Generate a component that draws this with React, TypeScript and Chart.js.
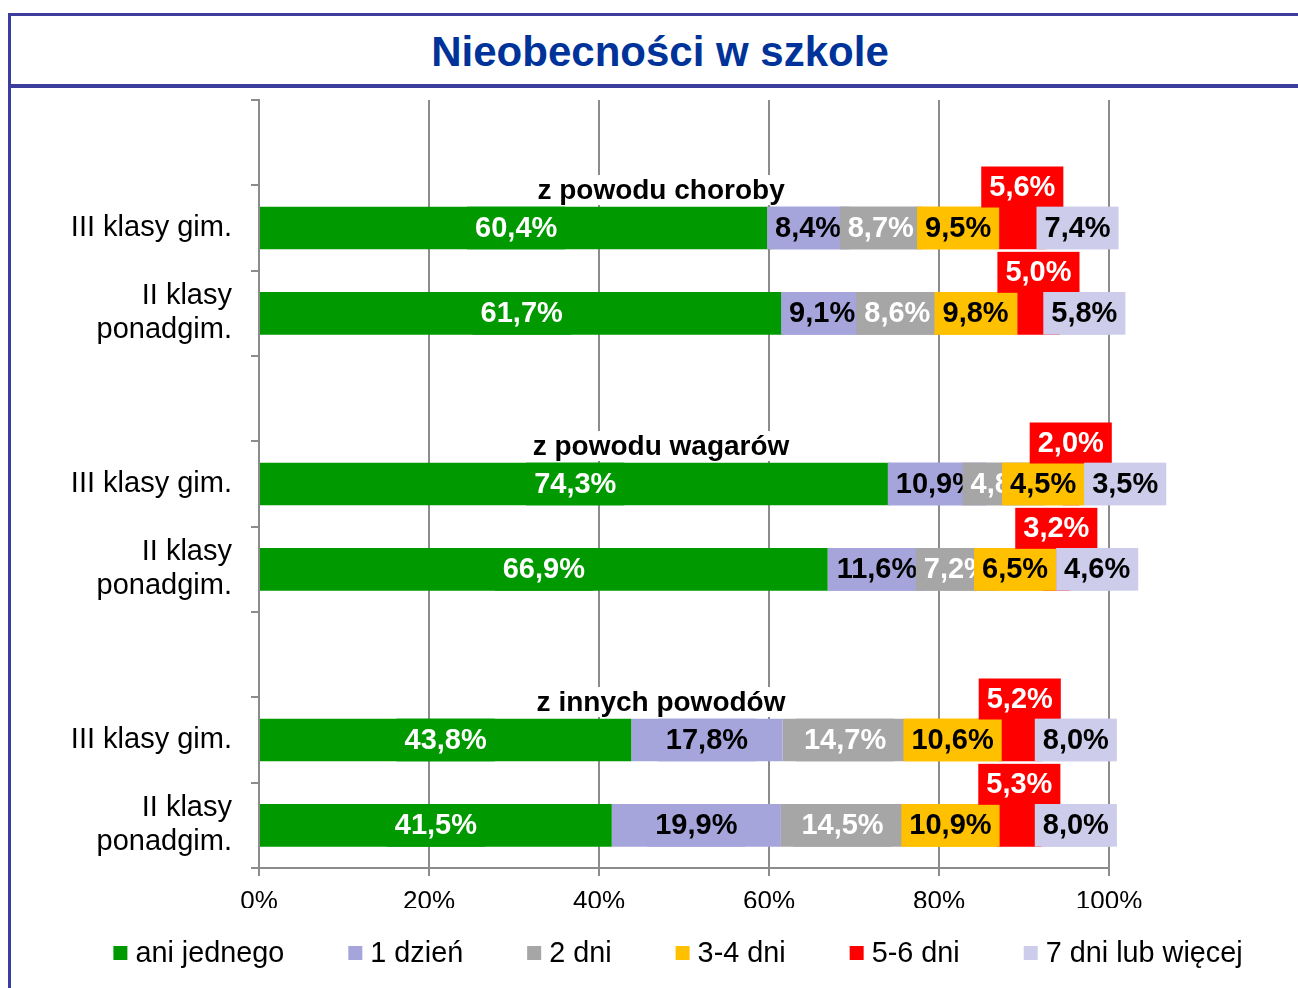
import React, { useEffect, useRef } from 'react';
import { Chart, registerables } from 'chart.js';

Chart.register(...registerables);

const FONT = "'Liberation Sans', Arial, sans-serif";

const chartTitle = 'Nieobecności w szkole';
const groupTitles = ['z powodu choroby', 'z powodu wagarów', 'z innych powodów'];
const rowLabels: (string | string[])[] = ['III klasy gim.', ['II klasy', 'ponadgim.']];
const seriesNames = ['ani jednego', '1 dzień', '2 dni', '3-4 dni', '5-6 dni', '7 dni lub więcej'];

// order of rows: choroby (III gim, II ponadgim), wagary (...), inne (...)
const aniJednego = [60.4, 61.7, 74.3, 66.9, 43.8, 41.5];
const jedenDzien = [8.4, 9.1, 10.9, 11.6, 17.8, 19.9];
const dwaDni = [8.7, 8.6, 4.8, 7.2, 14.7, 14.5];
const trzyCzteryDni = [9.5, 9.8, 4.5, 6.5, 10.6, 10.9];
const piecSzescDni = [5.6, 5.0, 2.0, 3.2, 5.2, 5.3];
const siedemWiecej = [7.4, 5.8, 3.5, 4.6, 8.0, 8.0];

const xTickValues = [0, 20, 40, 60, 80, 100];

const seriesColors = ['#009900', '#a5a5dc', '#a6a6a6', '#ffc000', '#ff0000', '#cdcdeb'];
const labelTextColors = ['#ffffff', '#000000', '#ffffff', '#000000', '#ffffff', '#000000'];
const GRID = '#8c8c8c';

const allSeries = [aniJednego, jedenDzien, dwaDni, trzyCzteryDni, piecSzescDni, siedemWiecej];

function buildLabels(): (string | string[])[] {
  const out: (string | string[])[] = [];
  groupTitles.forEach(() => {
    out.push('');
    rowLabels.forEach((r) => out.push(r));
  });
  return out;
}

function buildSlots(values: number[]): (number | null)[] {
  const out: (number | null)[] = [];
  groupTitles.forEach((_, g) => {
    out.push(null);
    rowLabels.forEach((_, r) => out.push(values[g * rowLabels.length + r]));
  });
  return out;
}

const fmt = (v: number) => v.toFixed(1).replace('.', ',') + '%';

const labelPlugin = {
  id: 'barLabels',
  afterDatasetsDraw(chart: any) {
    const ctx = chart.ctx as CanvasRenderingContext2D;
    const xs = chart.scales.x;
    const ys = chart.scales.y;
    ctx.save();
    ctx.font = `bold 28px ${FONT}`;
    ctx.textAlign = 'center';
    ctx.textBaseline = 'middle';
    // group titles
    groupTitles.forEach((t, g) => {
      const idx = g * (rowLabels.length + 1) + 1;
      const cy = ys.getPixelForValue(idx) - 38;
      const cx = xs.getPixelForValue(47.3);
      const w = ctx.measureText(t).width + 8;
      ctx.fillStyle = '#ffffff';
      ctx.fillRect(cx - w / 2, cy - 15, w, 30);
      ctx.fillStyle = '#000000';
      ctx.fillText(t, cx, cy + 1);
    });
    ctx.font = `bold 29px ${FONT}`;
    const prevRight: Record<number, number> = {};
    chart.data.datasets.forEach((ds: any, di: number) => {
      const meta = chart.getDatasetMeta(di);
      meta.data.forEach((el: any, j: number) => {
        const v = ds.data[j];
        if (v == null) return;
        const p = el.getProps(['x', 'y', 'base', 'height'], true);
        const text = fmt(v);
        const tw = ctx.measureText(text).width;
        const w = tw + 16;
        let cy = p.y;
        let h = p.height;
        if (di === 4) {
          cy = p.y - 41;
          h = 41;
        }
        let left = (p.x + p.base) / 2 - w / 2;
        if (di === 5 && prevRight[j] != null && left < prevRight[j]) left = prevRight[j];
        if (di === 3) prevRight[j] = left + w;
        ctx.fillStyle = seriesColors[di];
        ctx.fillRect(left, cy - h / 2, w, h);
        ctx.fillStyle = labelTextColors[di];
        ctx.fillText(text, left + w / 2, cy + 1);
      });
    });
    ctx.restore();
  },
};

const LEGEND_CX = 666;
const legendPlugin = {
  id: 'manualLegend',
  afterDraw(chart: any) {
    const ctx = chart.ctx as CanvasRenderingContext2D;
    ctx.save();
    ctx.font = `28.8px ${FONT}`;
    ctx.textBaseline = 'middle';
    ctx.textAlign = 'left';
    const items = chart.data.datasets.map((ds: any) => ({
      text: ds.label as string,
      color: ds.backgroundColor as string,
      w: 14 + 8 + ctx.measureText(ds.label).width,
    }));
    const gap = 64;
    const total = items.reduce((a: number, it: any) => a + it.w, 0) + gap * (items.length - 1);
    let x = LEGEND_CX - total / 2;
    const cy = chart.height - 35;
    items.forEach((it: any) => {
      ctx.fillStyle = it.color;
      ctx.fillRect(x, cy - 7, 14, 14);
      ctx.fillStyle = '#000000';
      ctx.fillText(it.text, x + 22, cy + 1);
      x += it.w + gap;
    });
    ctx.restore();
  },
};

export default function App() {
  const ref = useRef<HTMLCanvasElement | null>(null);

  useEffect(() => {
    if (!ref.current) return;
    const chart = new Chart(ref.current, {
      type: 'bar',
      data: {
        labels: buildLabels(),
        datasets: seriesNames.map((name, i) => ({
          label: name,
          data: buildSlots(allSeries[i]),
          backgroundColor: seriesColors[i],
          borderWidth: 0,
          barPercentage: 0.5,
          categoryPercentage: 1.0,
        })),
      },
      options: {
        indexAxis: 'y',
        responsive: false,
        maintainAspectRatio: false,
        animation: false,
        devicePixelRatio: 1,
        layout: { padding: { top: 10, left: 0, right: 189, bottom: 80 } },
        plugins: {
          legend: { display: false },
          title: { display: false },
          tooltip: { enabled: false },
        },
        scales: {
          x: {
            type: 'linear',
            stacked: true,
            min: 0,
            max: 100,
            afterBuildTicks: (s: any) => {
              s.ticks = xTickValues.map((v) => ({ value: v }));
            },
            afterFit: (s: any) => {
              s.height = 40;
              s.paddingLeft = 0;
              s.paddingRight = 0;
            },
            ticks: {
              callback: (v: any) => v + '%',
              font: { family: FONT, size: 26 },
              color: '#000000',
              padding: 10,
            },
            grid: { color: GRID, lineWidth: 2, tickLength: 8, drawTicks: true },
            border: { color: GRID, width: 2 },
          },
          y: {
            type: 'category',
            stacked: true,
            afterFit: (s: any) => {
              s.width = 247;
              s.paddingTop = 0;
              s.paddingBottom = 0;
            },
            ticks: {
              font: { family: FONT, size: 29, lineHeight: 1.17 },
              color: '#000000',
              padding: 19,
              autoSkip: false,
            },
            grid: { offset: true, drawOnChartArea: false, drawTicks: true, tickLength: 8, color: GRID, lineWidth: 2 },
            border: { color: GRID, width: 2 },
          },
        },
      },
      plugins: [labelPlugin, legendPlugin],
    } as any);
    return () => chart.destroy();
  }, []);

  const frame = '#3d3d9e';
  return (
    <div style={{ position: 'absolute', left: 0, top: 0, width: 1298, height: 988, background: '#ffffff', overflow: 'hidden' }}>
      <div style={{ position: 'absolute', left: 8, top: 13, width: 1290, height: 3, background: frame }} />
      <div style={{ position: 'absolute', left: 8, top: 84, width: 1290, height: 4, background: frame }} />
      <div style={{ position: 'absolute', left: 8, top: 13, width: 3, height: 975, background: frame }} />
      <div
        style={{
          position: 'absolute',
          left: 660,
          top: 28,
          transform: 'translateX(-50%)',
          whiteSpace: 'nowrap',
          font: `bold 42px ${FONT}`,
          lineHeight: '48px',
          color: '#003399',
        }}
      >
        {chartTitle}
      </div>
      <div style={{ position: 'absolute', left: 12, top: 90, width: 1286, height: 898 }}>
        <canvas ref={ref} width={1286} height={898} />
      </div>
    </div>
  );
}
